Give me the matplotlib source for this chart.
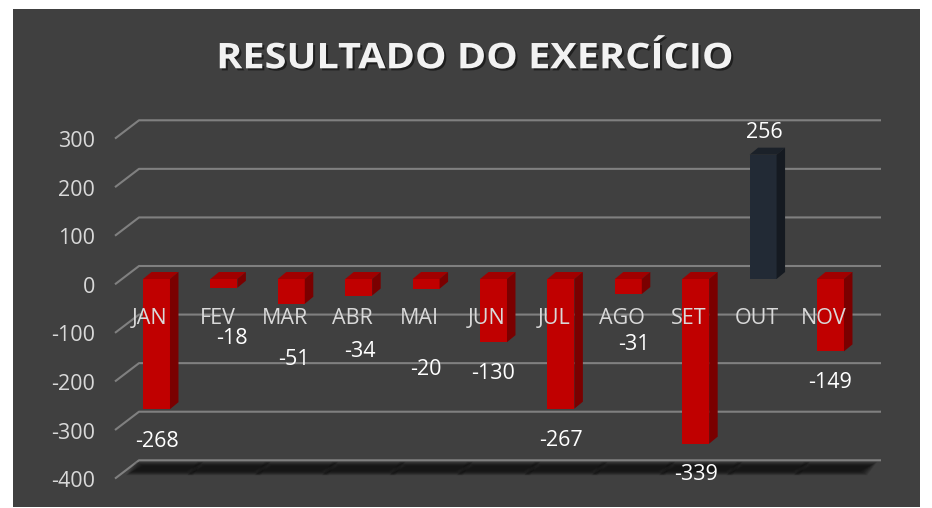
import matplotlib
matplotlib.use('Agg')
import matplotlib.pyplot as plt
from matplotlib.patches import Polygon, Rectangle
from matplotlib.transforms import Affine2D
import matplotlib.patheffects as pe

plt.rcParams['font.family'] = ['Open Sans', 'DejaVu Sans']

# ---------------- data ----------------
months = ['JAN', 'FEV', 'MAR', 'ABR', 'MAI', 'JUN', 'JUL', 'AGO', 'SET', 'OUT', 'NOV']
values = [-268, -18, -51, -34, -20, -130, -267, -31, -339, 256, -149]
yticks = [300, 200, 100, 0, -100, -200, -300, -400]
title = 'RESULTADO DO EXERCÍCIO'

# ---------------- style / geometry ----------------
W, H, DPI = 932, 508, 100
X0, SX = 156.5, 67.4      # pixel x of first category, pixels per category
Y0, SY = 279.0, 0.4857    # pixel y of value 0 (bar front plane), pixels per unit
BAR_W = 0.4
DEPTH_X, DEPTH_Y = 8.5, 7.0   # bar 3-D depth in px
BACK_UP = 13.0                 # back wall above bar front plane (px)
DIAG_X, DIAG_Y = 24.0, 18.3    # left diagonal of gridlines (px)
GRID_L, GRID_R = 139.0, 881.0
TICK_X = 95.0
TXT_DROP = 3.0                 # px, vertical correction for text centring
FS = 15.5
POS = dict(front='#C00000', side='#7A0000', top='#A00000')
NEG_OUT = dict(front='#222A35', side='#151A21', top='#1B2129')
# label nudges in px (dx, dy downwards) relative to bar end
LABEL_NUDGE = [(0, 29), (8, 48), (3, 53), (1, 53), (0, 78), (0, 28),
               (0, 29), (6, 47), (0, 28), (1, -25), (0, 28)]


class StretchShadow(pe.AbstractPathEffect):
    """Draw text stretched horizontally about cx, with a soft drop shadow."""

    def __init__(self, sx, cx):
        super().__init__()
        self.sx, self.cx = sx, cx
        self.shadow = pe.SimplePatchShadow(offset=(1.5, -1.5), shadow_rgbFace='black', alpha=0.5)
        self.normal = pe.Normal()

    def draw_path(self, renderer, gc, tpath, affine, rgbFace=None):
        st = Affine2D().translate(-self.cx, 0).scale(self.sx, 1).translate(self.cx, 0)
        new_aff = affine + st
        self.shadow.draw_path(renderer, gc, tpath, new_aff, rgbFace)
        self.normal.draw_path(renderer, gc, tpath, new_aff, rgbFace)


fig = plt.figure(figsize=(W / DPI, H / DPI), dpi=DPI, facecolor='white')
fig.add_artist(Rectangle((13 / W, 1 - 507 / H), (920 - 13) / W, (507 - 9) / H,
                         transform=fig.transFigure, facecolor='#404040',
                         edgecolor='none', zorder=0))

xlim = (-0.7, 10.9)
ylim = (-440, 340)
left_px = X0 + xlim[0] * SX
right_px = X0 + xlim[1] * SX
top_px = Y0 - ylim[1] * SY
bot_px = Y0 - ylim[0] * SY
ax = fig.add_axes([left_px / W, 1 - bot_px / H, (right_px - left_px) / W,
                   (bot_px - top_px) / H])
ax.set_xlim(*xlim)
ax.set_ylim(*ylim)
ax.axis('off')
ax.patch.set_alpha(0)


def xd(px):
    return (px - X0) / SX


def vd(px):
    return px / SY


# gridlines and tick labels
for v in yticks:
    yb = v + vd(BACK_UP)
    yf = yb - vd(DIAG_Y)
    ax.plot([xd(GRID_L - DIAG_X), xd(GRID_L), xd(GRID_R)], [yf, yb, yb],
            color='#808080', lw=1.5, solid_capstyle='butt', zorder=1, clip_on=False)
    ax.text(xd(TICK_X), yf - vd(TXT_DROP), str(v), ha='right', va='center', color='#D9D9D9',
            fontsize=FS, clip_on=False)

# floor shadow under each category
floor = yticks[-1] + vd(BACK_UP)
for i in range(len(months)):
    b0 = X0 - 0.5 * SX + 10 + i * SX
    b1 = b0 + SX
    b0 = max(b0, GRID_L)
    b1 = min(b1, GRID_R - 6)
    for j in range(10):
        ins = j * 0.8
        t = floor - vd(1.5 + ins * 0.55)
        bt = floor - vd(15 - ins * 0.55)
        poly = [(xd(b0 + ins - 3), t), (xd(b1 - ins + 3), t),
                (xd(b1 - ins - 7), bt), (xd(b0 + ins - 13), bt)]
        ax.add_patch(Polygon(poly, closed=True, facecolor='black', edgecolor='none',
                             alpha=0.085, zorder=1.5, clip_on=False))

# bars
x = list(range(len(months)))
cols = [NEG_OUT if v > 0 else POS for v in values]
ax.bar(x, values, width=BAR_W, color=[c['front'] for c in cols], linewidth=0,
       zorder=3)
ddx = DEPTH_X / SX
ddy = vd(DEPTH_Y)
for i, v in enumerate(values):
    c = cols[i]
    xl, xr = i - BAR_W / 2, i + BAR_W / 2
    top, bot = max(v, 0), min(v, 0)
    ax.add_patch(Polygon([(xl, top), (xr, top), (xr + ddx, top + ddy), (xl + ddx, top + ddy)],
                         closed=True, facecolor=c['top'], edgecolor='none', zorder=3))
    ax.add_patch(Polygon([(xr, top), (xr + ddx, top + ddy), (xr + ddx, bot + ddy), (xr, bot)],
                         closed=True, facecolor=c['side'], edgecolor='none', zorder=3))

# category labels
for i, m in enumerate(months):
    ax.annotate(m, (i, 0), xytext=(-6.5 * 0.72, -(36.5 + TXT_DROP) * 0.72),
                textcoords='offset points', ha='center', va='center', color='#D9D9D9',
                fontsize=FS, zorder=5)

# data labels
for i, v in enumerate(values):
    dx, dy = LABEL_NUDGE[i]
    ax.annotate(str(v), (i, v), xytext=(dx * 0.72, -(dy + TXT_DROP) * 0.72),
                textcoords='offset points', ha='center', va='center', color='white',
                fontsize=FS, zorder=6, annotation_clip=False)

fig.text(474 / W, 1 - 68.3 / H, title, ha='center', va='baseline', color='#F2F2F2',
         fontsize=25.5, fontweight='bold', path_effects=[StretchShadow(1.12, 474)])

fig.savefig('out.png', dpi=DPI, facecolor='white')
